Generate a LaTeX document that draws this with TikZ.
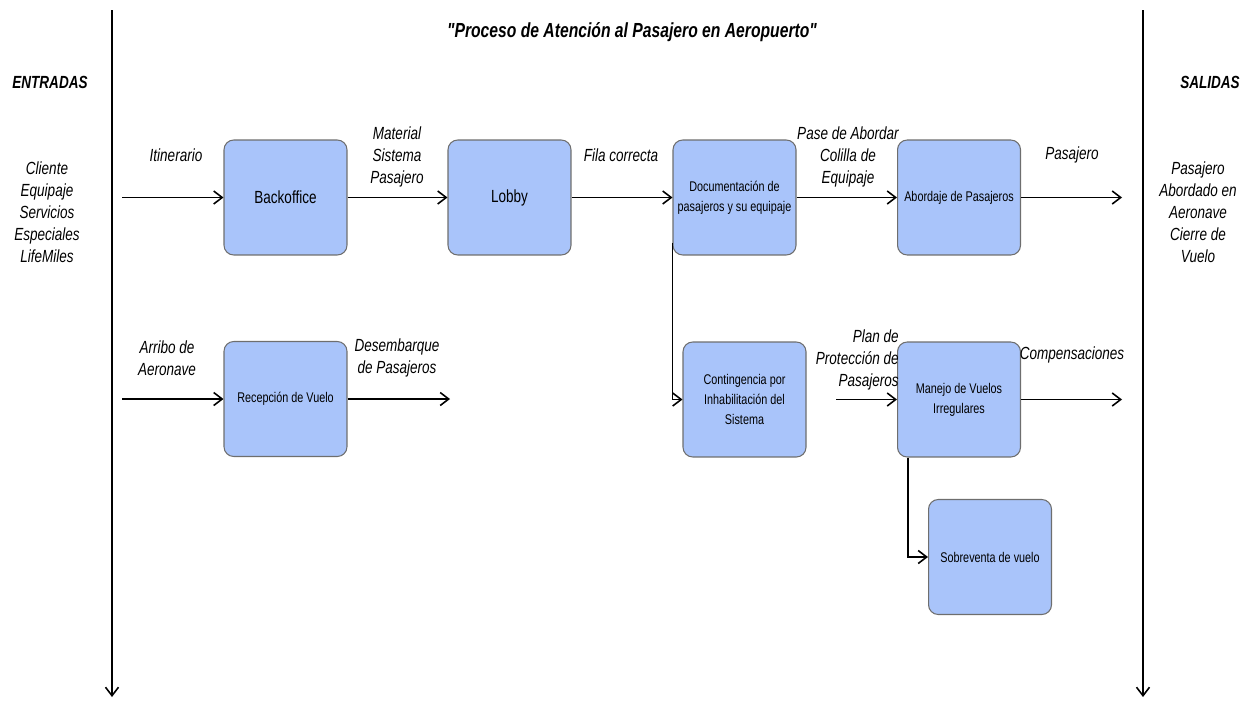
\documentclass[tikz,border=0pt]{standalone}
\usepackage{fontspec}
\setmainfont{Liberation Sans}[FakeStretch=0.77, Ligatures=TeXOff]
\usepackage{xcolor}
\usepackage{tikz}
\usetikzlibrary{arrows.meta}

\definecolor{procfill}{RGB}{169,196,250}
\definecolor{procline}{RGB}{110,110,110}

\begin{document}
\begin{tikzpicture}[x=0.02cm, y=-0.02cm,
    >={Straight Barb[length=1.7mm, width=2.6mm]},
    proc/.style={rectangle, draw=procline, fill=procfill, rounded corners=5.5pt, minimum width=2.46cm, minimum height=2.3cm, line width=0.6pt, align=center, inner sep=1pt, font=\fontsize{10}{12}\selectfont},
    procsm/.style={proc, font=\fontsize{8}{11.4}\selectfont},
    lbl/.style={align=center, font=\fontsize{10}{12.5}\selectfont\itshape},
    head/.style={font=\fontsize{10}{12}\selectfont\bfseries\itshape},
    flow/.style={->, line width=0.9pt}
]
    \useasboundingbox (0,0) rectangle (1253,700);

    % Title and side headers
    \node[head, font=\fontsize{11.6}{14}\selectfont\bfseries\itshape] (title) at (632,32) {"Proceso de Atención al Pasajero en Aeropuerto"};
    \node[head] (ent) at (50,82) {ENTRADAS};
    \node[head] (sal) at (1210,82) {SALIDAS};
    \node[lbl] (inputs) at (47,212) {Cliente\\Equipaje\\Servicios\\Especiales\\LifeMiles};
    \node[lbl] (outputs) at (1198,212) {Pasajero\\Abordado en\\Aeronave\\Cierre de\\Vuelo};

    % Side lines
    \coordinate (ltop) at (112,10);
    \coordinate (lbot) at (112,697);
    \coordinate (rtop) at (1143,10);
    \coordinate (rbot) at (1143,697);
    \draw[flow] (ltop) -- (lbot);
    \draw[flow] (rtop) -- (rbot);

    % Processes
    \node[proc] (back) at (285.5,197.5) {Backoffice};
    \node[proc] (lobby) at (509.5,197.5) {Lobby};
    \node[procsm] (doc) at (734.5,197.5) {Documentación de\\pasajeros y su equipaje};
    \node[procsm] (abord) at (959,197.5) {Abordaje de Pasajeros};
    \node[procsm] (recep) at (285.5,399) {Recepción de Vuelo};
    \node[procsm] (cont) at (744.5,399.5) {Contingencia por\\Inhabilitación del\\Sistema};
    \node[procsm] (manejo) at (959,399.5) {Manejo de Vuelos\\Irregulares};
    \node[procsm] (sobre) at (990,557) {Sobreventa de vuelo};

    % Free ends
    \coordinate (in1) at (122,197.5);
    \coordinate (out1) at (1122,197.5);
    \coordinate (in2) at (122,399);
    \coordinate (out2) at (450,399);
    \coordinate (in3) at (836,399.5);
    \coordinate (out3) at (1122,399.5);

    % Connections
    \draw[flow] (in1) -- (back);
    \draw[flow] (back) -- (lobby);
    \draw[flow] (lobby) -- (doc);
    \draw[flow] (doc) -- (abord);
    \draw[flow] (abord) -- (out1);
    \draw[flow] (in2) -- (recep);
    \draw[flow] (recep) -- (out2);
    \draw[flow] ([yshift=0.26cm]doc.south west) |- (cont);
    \draw[flow] (in3) -- (manejo);
    \draw[flow] (manejo) -- (out3);
    \draw[flow] ([xshift=0.22cm]manejo.south west) |- (sobre);

    % Labels
    \node[lbl] (litin) at (176,155) {Itinerario};
    \node[lbl] (lmat) at (397,157) {Material\\Sistema\\Pasajero};
    \node[lbl] (lfila) at (621,155) {Fila correcta};
    \node[lbl] (lpase) at (848,157) {Pase de Abordar\\Colilla de\\Equipaje};
    \node[lbl] (lpas) at (1072,155) {Pasajero};
    \node[lbl] (larr) at (167,358) {Arribo de\\Aeronave};
    \node[lbl] (ldes) at (397,358) {Desembarque\\de Pasajeros};
    \node[lbl, align=right, anchor=east, inner sep=0pt] (lplan) at (899,360) {Plan de\\Protección de\\Pasajeros};
    \node[lbl] (lcomp) at (1072,355) {Compensaciones};
\end{tikzpicture}
\end{document}
